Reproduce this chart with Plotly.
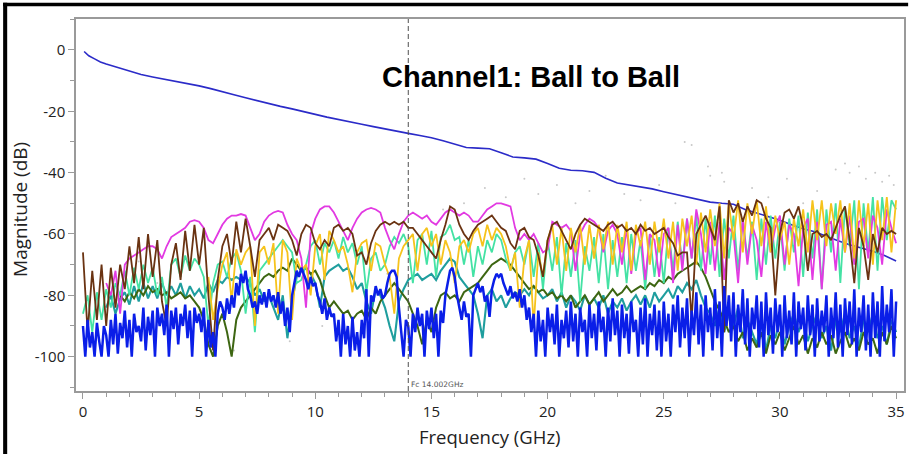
import plotly.graph_objects as go

# ---------------- data ----------------
IL_FREQ = [0.05, 0.25, 0.5, 0.75, 1.0, 1.5, 2.0, 2.5, 3.0, 3.5, 4.0, 4.5, 5.0, 5.5, 6.0, 6.5,
           7.0, 7.5, 8.0, 8.5, 9.0, 9.5, 10.0, 10.5, 11.0, 11.5, 12.0, 12.5, 13.0, 13.5, 14.0,
           14.5, 15.0, 15.5, 16.0, 16.5, 17.0, 17.5, 18.0, 18.5, 19.0, 19.5, 20.0, 20.5, 21.0,
           21.5, 22.0, 22.5, 23.0, 23.5, 24.0, 24.5, 25.0, 25.5, 26.0, 26.5, 27.0, 27.5, 28.0,
           28.5, 29.0, 29.5, 30.0, 30.5, 31.0, 31.5, 32.0, 32.5, 33.0, 33.5, 34.0, 34.5, 35.0]
IL_DB = [-0.5, -1.9, -2.9, -3.9, -4.6, -5.8, -7.0, -8.0, -8.8, -9.5, -10.2, -10.9, -11.7, -12.6,
         -13.5, -14.6, -15.6, -16.6, -17.6, -18.4, -19.2, -20.0, -21.0, -21.9, -22.6, -23.4,
         -24.2, -25.0, -25.8, -26.5, -27.2, -27.9, -28.6, -29.6, -30.7, -31.8, -32.0, -32.2,
         -33.5, -34.9, -35.2, -35.6, -37.0, -38.6, -39.2, -39.4, -39.9, -41.8, -43.4, -44.0,
         -44.5, -45.3, -46.2, -47.0, -47.8, -48.8, -49.6, -50.0, -50.3, -52.0, -53.2, -54.2,
         -55.5, -57.0, -58.3, -59.3, -60.8, -62.2, -63.5, -64.5, -65.6, -67.0, -68.8]

# crosstalk traces sampled every 0.2 GHz starting at 0 GHz (None = not visible)
STEP_XT = 0.2
BROWN_DB = [
    -66, -92, -72, -88, -70,  -90, -71, -84, -70, -78,  -64, -76, -61, -78, -60,
    -74, -62, -82, -90, -70,  -63, -75, -59, -72, -57,  -70, -58, -80, -98, -75,
    -64, -60, -70, -56, -66,  -55, -64, -74, -62, -60,  -58, -62, -57, -58, -59,
    -62, -67, -60, -57, -58,  -63, -65, -62, -64, -58,  -57, -59, -58, -60, -67,
    -66, -70, -63, -59, -57,  -56, -57, -56, -57, -56,  -58, -58, -60, -62, -64,
    -66, -68, -62, -57, -51,  -52, -57, -60, -62, -59,  -57, -56, -55, -54, -56,
    -58, -59, -63, -65, -59,  -58, -61, -62, -67, -74,  -62, -57, -56, -59, -62,
    -65, -60, -57, -55, -56,  -57, -58, -59, -57, -56,  -58, -57, -59, -58, -60,
    -57, -59, -58, -60, -59,  -58, -61, -63, -67, -66,  -66, -88, -60, -57, -54,
    -58, -62, -51, -92, -49,  -53, -50, -56, -51, -54,  -49, -50, -55, -58, -80,
    -60, -53, -52, -55, -51,  -58, -72, -60, -59, -61,  -60, -62, -58, -54, -51,
    -62, -76, -58, -64, -75,  -60, -66, -58, -60, -59,  -60]
MAGENTA_DB = [None] * 5 + [
    -76, -80, -72, -86, -70,  -68, -67, -66, -65, -64,
    -64, -65, -68, -64, -61,  -60, -59, -58, -56, -55.5,  -56, -58, -62, -63, -60,
    -57, -55, -54, -54, -53.5,  -54, -58, -62, -60, -56,  -54, -53, -52.5, -53, -57,
    -60, -62, -68, -84, -60,  -55, -52, -51, -51, -53,  -56, -59, -62, -58, -55,
    -53, -52, -51.5, -52, -53,  -58, -62, -65, -60, -56,  -54, -53, -54, -55, -54,
    -56, -57, -55, -53, -52,  -53, -54, -53, -54, -56,  -56, -54, -52, -51, -50,
    -50, -50.5, -51, -58, -62,  -60, -62, -60, -63, -66,  -65, -56, -57, -58, -57,
    -59, -72, -60, -57, -55,  -56, -58, -66, -59, -57,  -60, -70, -58, -73, -60,
    -58, -75, -60, -62, -74,  -60, -58, -76, -57, -72,  -55, -68, -52, -60, -73,
    -56, -72, -56, -75, -58,  -60, -76, -55, -70, -57,  -62, -74, -56, -66, -58,
    -54, -70, -57, -60, -77,  -58, -55, -75, -56, -78,  -57, -56, -72, -55, -66,
    -54, -70, -56, -55, -68,  -54, -58, -70, -52, -58,  -63]
GOLD_DB = [None] * 27 + [
    -74, -88, -78,
    -70, -66, -82, -65, -70,  -66, -64, -90, -66, -64,  -70, -63, -86, -62, -66,
    -88, -68, -72, -70, -80,  -64, -60, -75, -59, -62,  -66, -64, -70, -79, -66,
    -63, -62, -72, -63, -64,  -70, -74, -86, -68, -64,  -62, -60, -72, -60, -58,
    -64, -60, -70, -62, -66,  -76, -64, -62, -66, -60,  -58, -64, -57, -62, -58,
    -60, -64, -72, -66, -84,  -68, -62, -90, -66, -74,  -62, -57, -70, -58, -72,
    -58, -66, -57, -70, -57,  -68, -57, -65, -56, -70,  -57, -66, -56, -72, -57,
    -64, -56, -70, -56, -66,  -55, -68, -56, -72, -55,  -64, -54, -70, -53, -66,
    -52, -64, -50, -68, -50,  -62, -49, -66, -50, -60,  -49, -64, -51, -66, -54,
    -62, -56, -70, -55, -64,  -52, -66, -49, -62, -49,  -64, -50, -60, -49, -66,
    -50, -68, -49, -64, -50,  -70, -49, -62, -48, -66,  -49]
AQUA_DB = [
    -86, -80, -92, -79, -88,  -78, -84, -76, -80, -72,  -80, -71, -78, -70, -76,
    -71, -80, -74, -84, -70,  -68, -74, -67, -72, -68,  -70, -74, -90, -76, -70,
    -69, -74, -68, -66, -72,  -86, -74, -92, -72, -70,  -68, -66, -64, -62, -64,
    -66, -76, -75, -70, -64,  -62, -70, -63, -66, -62,  -68, -61, -66, -63, -70,
    -64, -79, -68, -66, -72,  -70, -64, -61, -63, -60,  -64, -76, -62, -60, -70,
    -59, -74, -61, -60, -57,  -62, -61, -70, -62, -74,  -64, -70, -62, -66, -60,
    -62, -68, -72, -66, -64,  -70, -62, -74, -63, -78,  -62, -72, -61, -80, -63,
    -74, -62, -82, -64, -72,  -61, -76, -60, -78, -62,  -74, -61, -76, -60, -72,
    -62, -78, -60, -74, -61,  -76, -58, -72, -56, -70,  -55, -68, -54, -72, -55,
    -70, -54, -74, -55, -68,  -54, -72, -55, -68, -56,  -75, -55, -70, -54, -68,
    -56, -72, -55, -66, -54,  -74, -53, -68, -52, -78,  -52, -66, -50, -76, -51,
    -64, -49, -78, -50, -66,  -48, -72, -48, -62, -49,  -52]
TEAL_DB = [None] * 5 + [
    -84, -80, -86, -81, -79,  -83, -77, -82, -76, -81,  -77, -81, -76, -80, -77,
    -80, -76, -81, -77, -80,  -78, -81, -76, -79, -75,  -76, -74, -75, -74, -75,
    -74, -76, -80, -78, -82,  -80, -84, -88, -80, -94,  -82, -74, -72, -71, -73,
    -76, -84, -74, -72, -71,  -70, -72, -71, -74, -78,  -76, -82, -86, -78, -80,
    -84, -90, -95, -82, -78,  -75, -74, -73, -75, -74,  -73, -75, -72, -70, -68,
    -69, -74, -76, -78, -80,  -86, -94, -80, -78, -82,  -80, -84, -81, -79, -80,
    -78, -80, -77, -79, -81,  -80, -78, -82, -79, -84,  -80, -82, -85, -80, -83,
    -81, -84, -80, -86, -82,  -84, -81, -85, -82, -80,  -83, -80, -84, -79, -82,
    -80, -78, -81, -77, -79,  -76, -78, -75, -80, -84,  -86, -90, -84, -92, -86,
    -90, -84, -94, -88, -92,  -96, -88, -98, -90, -94,  -88, -96, -90, -86, -92,
    -88, -95, -90, -86, -94,  -90, -98, -88, -92, -86,  -94, -90, -97, -88, -92,
    -86, -94, -90, -96, -88,  -92]
OLIVE_DB = [None] * 8 + [
    -80, -82,
    -79, -81, -78, -80, -77,  -79, -78, -80, -79, -81,  -80, -79, -81, -80, -82,
    -84, -88, -96, -100, -90,  -86, -92, -100, -88, -84,  -82, -80, -78, -76, -74,
    -73, -74, -72, -71, -72,  -68, -70, -72, -71, -73,  -72, -75, -80, -84, -82,
    -84, -86, -85, -88, -86,  -85, -88, -84, -86, -82,  -80, -78, -76, -78, -80,
    -82, -86, -90, -96, -88,  -92, -84, -80, -79, -81,  -80, -82, -79, -78, -77,
    -76, -74, -72, -70, -69,  -68, -69, -70, -72, -74,  -76, -78, -77, -79, -78,
    -80, -79, -81, -80, -82,  -80, -84, -82, -80, -83,  -81, -79, -82, -80, -78,
    -80, -79, -77, -79, -78,  -77, -78, -76, -77, -75,  -76, -74, -75, -73, -72,
    -71, -70, -69, -71, -74,  -78, -82, -85, -88, -92,  -90, -95, -92, -98, -94,
    -97, -92, -99, -93, -96,  -92, -98, -94, -90, -96,  -93, -99, -94, -97, -92,
    -96, -93, -99, -95, -92,  -97, -94, -98, -92, -96,  -94, -99, -92, -96, -90,
    -94]

# blue noisy trace sampled every 0.1 GHz
STEP_BLUE = 0.1
BLUE_DB = [
    -90, -100, -88, -97, -92, -100, -89, -95, -100, -90,
    -93, -100, -88, -96, -86, -99, -89, -94, -85, -97,
    -88, -100, -86, -92, -90, -95, -84, -98, -87, -93,
    -85, -100, -84, -90, -86, -93, -83, -100, -85, -91,
    -84, -96, -86, -90, -83, -94, -85, -100, -84, -89,
    -86, -92, -84, -100, -88, -97, -92, -100, -86, -82,
    -84, -88, -81, -86, -80, -84, -76, -80, -73, -76,
    -72, -78, -80, -84, -82, -86, -80, -83, -79, -84,
    -78, -82, -80, -84, -79, -86, -82, -90, -84, -92,
    -80, -76, -72, -74, -71, -73, -75, -78, -74, -77,
    -76, -80, -82, -86, -81, -88, -84, -87, -86, -95,
    -88, -100, -86, -96, -90, -100, -87, -98, -92, -100,
    -88, -94, -78, -100, -80, -82, -77, -80, -78, -81,
    -80, -76, -73, -72, -72, -74, -84, -92, -100, -88,
    -90, -100, -86, -92, -84, -90, -86, -100, -85, -91,
    -84, -94, -86, -100, -85, -89, -80, -76, -72, -71,
    -74, -80, -84, -88, -82, -87, -86, -100, -80, -78,
    -76, -79, -77, -82, -80, -87, -78, -75, -73, -74,
    -73, -76, -78, -80, -77, -81, -79, -82, -78, -84,
    -80, -88, -84, -92, -86, -100, -85, -95, -88, -100,
    -84, -92, -86, -96, -83, -100, -88, -94, -85, -97,
    -82, -95, -86, -100, -84, -92, -88, -100, -83, -94,
    -86, -98, -82, -92, -87, -100, -84, -95, -81, -93,
    -85, -100, -83, -94, -86, -99, -82, -92, -88, -100,
    -84, -96, -81, -100, -86, -93, -83, -98, -85, -100,
    -82, -95, -86, -100, -83, -92, -80, -97, -84, -94,
    -81, -100, -85, -93, -79, -96, -83, -100, -80, -92,
    -84, -98, -78, -94, -82, -100, -77, -90, -80, -95,
    -79, -100, -83, -92, -78, -96, -81, -100, -84, -91,
    -80, -97, -82, -100, -79, -93, -84, -99, -81, -92,
    -83, -100, -80, -94, -85, -96, -79, -100, -82, -91,
    -84, -98, -80, -93, -83, -100, -81, -95, -85, -92,
    -80, -100, -84, -94, -79, -97, -83, -100, -81, -93,
    -82, -96, -78, -100, -84, -92, -80, -98, -83, -100,
    -79, -94, -82, -100, -77, -95, -83, -92, -78, -100,
    -82]

# faint grey scatter dots
DOT_FREQ = [2.4, 3.2, 4.6, 6.5, 8.9, 10.3, 13.1, 15.5, 16.4, 17.3, 18.2, 19.0, 19.6, 20.4,
            21.2, 21.8, 22.5, 23.3, 24.0, 24.8, 25.5, 25.9, 26.2, 26.9, 27.0, 27.5, 27.6,
            28.8, 29.5, 30.3, 31.0, 31.6, 32.4, 32.8, 33.0, 33.4, 33.7, 34.1, 34.4, 34.7, 34.9]
DOT_DB = [-69, -76, -71, -98, -95, -90, -73, -52, -50, -45, -48, -42, -47, -44,
          -50, -46, -41, -47, -49, -44, -50, -30, -31, -38, -41, -40, -43,
          -45, -48, -42, -50, -46, -39, -37, -40, -38, -42, -40, -43, -41, -44]

MARKER_FREQ = 14.002
X_TICKS = [0, 5, 10, 15, 20, 25, 30, 35]
X_LABELS = ["0", "5", "10", "15", "20", "25", "30", "35"]
Y_TICKS = [0, -20, -40, -60, -80, -100]
Y_LABELS = ["0", "-20", "-40", "-60", "-80", "-100"]

# ---------------- figure ----------------
def grid(values, step):
    return [round(i * step, 2) for i in range(len(values))]

fig = go.Figure()
fig.add_trace(go.Scatter(x=IL_FREQ, y=IL_DB, mode="lines",
                         line=dict(color="#2b2bc8", width=1.6)))
fig.add_trace(go.Scatter(x=DOT_FREQ, y=DOT_DB, mode="markers",
                         marker=dict(color="#c8c8c8", size=2)))
series = [
    (TEAL_DB, "#1f9e9e", 2.1),
    (OLIVE_DB, "#3d6612", 2.0),
    (AQUA_DB, "#44e2a4", 1.8),
    (MAGENTA_DB, "#e23ae2", 1.8),
    (GOLD_DB, "#f6c31c", 1.8),
    (BROWN_DB, "#6a3312", 1.8),
]
for vals, col, w in series:
    fig.add_trace(go.Scatter(x=grid(vals, STEP_XT), y=vals, mode="lines",
                             line=dict(color=col, width=w, simplify=False),
                             connectgaps=False))
fig.add_trace(go.Scatter(x=grid(BLUE_DB, STEP_BLUE), y=BLUE_DB, mode="lines",
                         line=dict(color="#0a1ee8", width=2.5, simplify=False)))

axis_col = "#9a9a9a"
fig.update_xaxes(range=[-0.3, 35.34], tickmode="array", tickvals=X_TICKS, ticktext=X_LABELS,
                 ticks="outside", ticklen=6, tickcolor=axis_col, tickwidth=1,
                 minor=dict(dtick=1, tick0=0, ticks="outside", ticklen=4, tickcolor=axis_col),
                 showline=True, linecolor=axis_col, linewidth=1.5, mirror=True,
                 showgrid=False, zeroline=False,
                 tickfont=dict(family="Open Sans", size=15, color="#222"))
fig.update_yaxes(range=[-111.2, 10.1], tickmode="array", tickvals=Y_TICKS, ticktext=Y_LABELS,
                 ticks="outside", ticklen=6, tickcolor=axis_col, tickwidth=1,
                 minor=dict(dtick=10, tick0=0, ticks="outside", ticklen=4, tickcolor=axis_col),
                 showline=True, linecolor=axis_col, linewidth=1.5, mirror=True,
                 showgrid=False, zeroline=False,
                 tickfont=dict(family="Open Sans", size=15, color="#222"))

fig.add_shape(type="line", xref="x", yref="paper", x0=MARKER_FREQ, x1=MARKER_FREQ, y0=0, y1=1,
              line=dict(color="#505050", width=1, dash="5px,3px"))
# outer black frame (left and top)
fig.add_shape(type="rect", xref="paper", yref="paper", x0=-0.088, x1=-0.0831, y0=-0.17, y1=1.044,
              line=dict(width=0), fillcolor="black")
fig.add_shape(type="rect", xref="paper", yref="paper", x0=-0.088, x1=1.005, y0=1.034, y1=1.044,
              line=dict(width=0), fillcolor="black")

fig.add_annotation(text="<b>Channel1: Ball to Ball</b>", xref="paper", yref="paper",
                   x=0.549, y=0.844, showarrow=False, xanchor="center", yanchor="middle",
                   font=dict(family="Liberation Sans, Arial", size=29, color="black"))
fig.add_annotation(text="Fc 14.002GHz", xref="x", yref="paper", x=MARKER_FREQ, y=0,
                   showarrow=False, xanchor="left", yanchor="bottom", xshift=1, yshift=0,
                   font=dict(family="DejaVu Sans", size=7.5, color="#555"))
fig.add_annotation(text="Frequency (GHz)", xref="paper", yref="paper", x=0.5, y=-0.121,
                   showarrow=False, xanchor="center", yanchor="middle",
                   font=dict(family="Open Sans", size=18.5, color="#222"))
fig.add_annotation(text="Magnitude (dB)", xref="paper", yref="paper", x=-0.0675, y=0.487,
                   showarrow=False, xanchor="center", yanchor="middle", textangle=-90,
                   font=dict(family="Open Sans", size=19, color="#222"))

fig.update_layout(width=910, height=454, margin=dict(l=76, r=4, t=19, b=63),
                  paper_bgcolor="white", plot_bgcolor="white", showlegend=False)
fig.write_html("out.html")
